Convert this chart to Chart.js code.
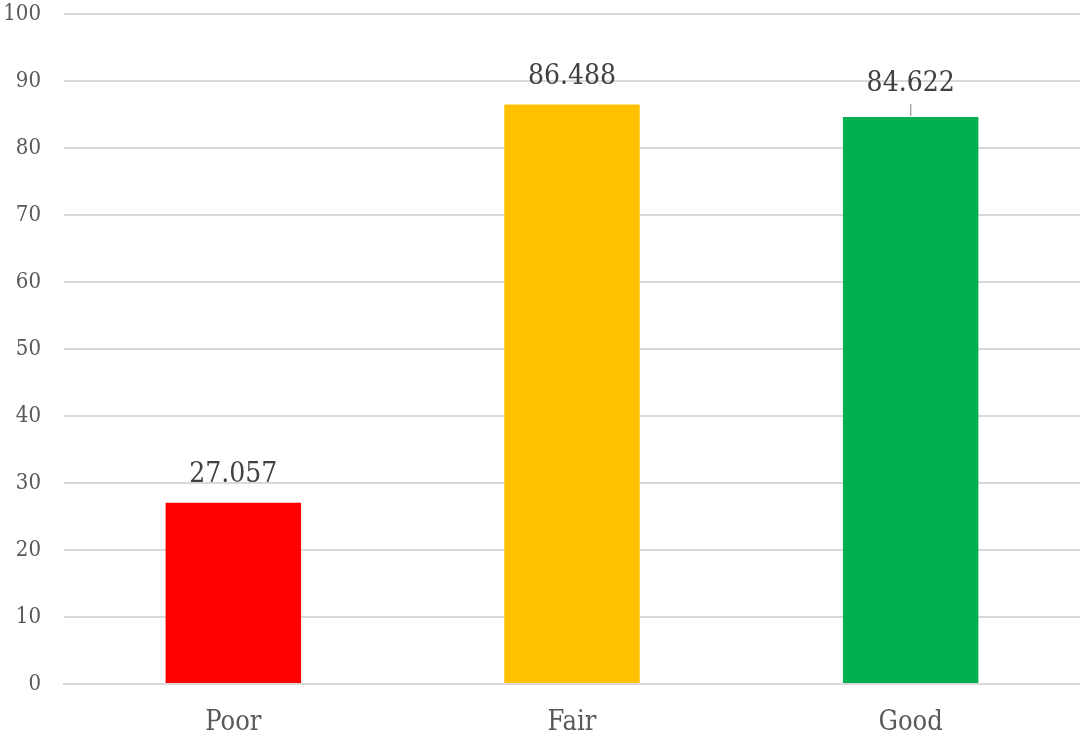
<!DOCTYPE html>
<html>
<head>
<meta charset="utf-8">
<script src="https://cdn.jsdelivr.net/npm/chart.js@4/dist/chart.umd.min.js"></script>
<style>
  html, body { margin: 0; padding: 0; background: #fff; overflow: hidden; }
</style>
</head>
<body>
<canvas id="scoreChart" width="1080" height="737"></canvas>
<script>
const categories = ['Poor', 'Fair', 'Good'];
const scores = [27.057, 86.488, 84.622];
const barColors = ['#FF0000', '#FFC000', '#00B050'];
const yTicks = [0, 10, 20, 30, 40, 50, 60, 70, 80, 90, 100];

const serif = "'DejaVu Serif Condensed', 'Liberation Serif', serif";

// labels above bars, the last one is lifted a bit and gets a leader line
const barLabels = {
  id: 'barLabels',
  afterDatasetsDraw(chart) {
    const ctx = chart.ctx;
    const meta = chart.getDatasetMeta(0);
    const lift = [0, 0, 5];
    ctx.save();
    ctx.font = "28px " + serif;
    ctx.fillStyle = '#404040';
    ctx.textAlign = 'center';
    ctx.textBaseline = 'middle';
    meta.data.forEach((bar, i) => {
      const y = bar.y - 28 - lift[i];
      ctx.fillText(scores[i].toFixed(3), bar.x, y);
      if (lift[i] > 0) {
        ctx.strokeStyle = '#a6a6a6';
        ctx.lineWidth = 1.5;
        ctx.beginPath();
        ctx.moveTo(bar.x, bar.y - 1);
        ctx.lineTo(bar.x, bar.y - 13);
        ctx.stroke();
      }
    });
    ctx.restore();
  }
};

new Chart(document.getElementById('scoreChart'), {
  type: 'bar',
  data: {
    labels: categories,
    datasets: [{
      data: scores,
      backgroundColor: barColors,
      borderWidth: 0,
      categoryPercentage: 1,
      barPercentage: 0.4
    }]
  },
  options: {
    responsive: false,
    animation: false,
    layout: { padding: { top: 14, right: 0, bottom: 0, left: 0 } },
    plugins: {
      legend: { display: false },
      tooltip: { enabled: false }
    },
    scales: {
      x: {
        grid: { display: false, drawTicks: false },
        border: { color: '#d9d9d9', width: 2 },
        afterFit: (axis) => { axis.height = 53; axis.paddingLeft = 0; axis.paddingRight = 0; },
        ticks: {
          padding: 23,
          color: '#595959',
          font: { family: serif, size: 27 }
        }
      },
      y: {
        min: 0,
        max: 100,
        afterBuildTicks: (axis) => { axis.ticks = yTicks.map(v => ({ value: v })); },
        afterFit: (axis) => { axis.width = 64; axis.paddingTop = 0; axis.paddingBottom = 0; },
        grid: { color: '#d9d9d9', lineWidth: 2, drawTicks: false },
        border: { display: false },
        ticks: {
          padding: 23,
          color: '#595959',
          font: { family: serif, size: 22 }
        }
      }
    }
  },
  plugins: [barLabels]
});
</script>
</body>
</html>
